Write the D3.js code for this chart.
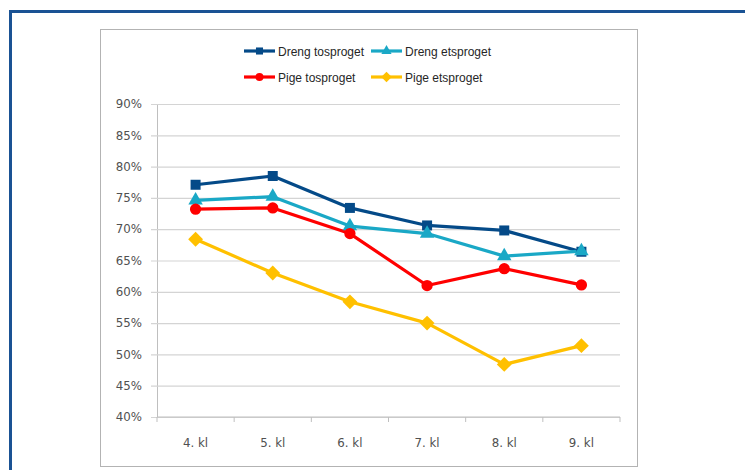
<!DOCTYPE html>
<html>
<head>
<meta charset="utf-8">
<script src="https://cdn.jsdelivr.net/npm/d3@7"></script>
<style>
  body { margin: 0; background: #fff; }
  svg { display: block; }
</style>
</head>
<body>
<div id="chart"></div>
<script>
'use strict'

var classes = ['4. kl', '5. kl', '6. kl', '7. kl', '8. kl', '9. kl'];
var drengTo = [77.1, 78.5, 73.4, 70.6, 69.8, 66.4];
var drengEt = [74.6, 75.2, 70.5, 69.3, 65.7, 66.5];
var pigeTo = [73.2, 73.4, 69.3, 61.0, 63.7, 61.1];
var pigeEt = [68.4, 63.0, 58.4, 55.0, 48.4, 51.4];
var yTicks = [40, 45, 50, 55, 60, 65, 70, 75, 80, 85, 90];

var series = [
  { name: 'Dreng tosproget', values: drengTo, color: '#044a88', marker: d3.symbolSquare, size: 100, rot: 0 },
  { name: 'Dreng etsproget', values: drengEt, color: '#1aa8c6', marker: d3.symbolTriangle, size: 90, rot: 0 },
  { name: 'Pige tosproget', values: pigeTo, color: '#ff0000', marker: d3.symbolCircle, size: 100, rot: 0 },
  { name: 'Pige etsproget', values: pigeEt, color: '#ffc000', marker: d3.symbolSquare, size: 110, rot: 45 }
];

var width = 745, height = 470;
var plot = { left: 157, right: 620, top: 104, bottom: 417 };

var svg = d3.select('#chart').append('svg')
  .attr('width', width)
  .attr('height', height);

// outer frame
svg.append('rect')
  .attr('x', 10.5).attr('y', 11.5)
  .attr('width', 760).attr('height', 480)
  .attr('fill', 'none')
  .attr('stroke', '#1a5294')
  .attr('stroke-width', 3);

// chart box
svg.append('rect')
  .attr('x', 100.5).attr('y', 29.5)
  .attr('width', 537).attr('height', 437)
  .attr('fill', '#fff')
  .attr('stroke', '#b3b3b3')
  .attr('stroke-width', 1);

var x = d3.scaleBand()
  .domain(classes)
  .range([plot.left, plot.right]);

var y = d3.scaleLinear()
  .domain([40, 90])
  .range([plot.bottom, plot.top]);

// gridlines + y axis
var yAxis = d3.axisLeft(y)
  .tickValues(yTicks)
  .tickSize(-(plot.right - plot.left))
  .tickSizeOuter(0)
  .tickPadding(15)
  .tickFormat(function(d) { return d + '%'; });

var gy = svg.append('g')
  .attr('transform', 'translate(' + plot.left + ',0)')
  .call(yAxis);
gy.select('.domain').attr('stroke', '#bfbfbf');
gy.selectAll('.tick line')
  .attr('stroke', '#d4d4d4')
  .attr('x1', -6)
  .attr('stroke-width', 1.2);
gy.selectAll('.tick text')
  .attr('fill', '#505050')
  .style('font-family', 'DejaVu Sans')
  .style('font-size', '11.8px');

// x axis
var xAxis = svg.append('g')
  .attr('transform', 'translate(0,' + plot.bottom + ')');
xAxis.append('line')
  .attr('x1', plot.left).attr('x2', plot.right)
  .attr('stroke', '#bfbfbf').attr('stroke-width', 1.2);
var bounds = classes.map(function(c) { return x(c); }).concat([plot.right]);
xAxis.selectAll('.xt')
  .data(bounds)
  .enter().append('line')
  .attr('class', 'xt')
  .attr('x1', function(d) { return d; })
  .attr('x2', function(d) { return d; })
  .attr('y1', 0).attr('y2', 5)
  .attr('stroke', '#bfbfbf');
xAxis.selectAll('.xl')
  .data(classes)
  .enter().append('text')
  .attr('class', 'xl')
  .attr('x', function(d) { return x(d) + x.bandwidth() / 2; })
  .attr('y', 30)
  .attr('text-anchor', 'middle')
  .attr('fill', '#505050')
  .style('font-family', 'DejaVu Sans')
  .style('font-size', '11.8px')
  .text(function(d) { return d; });

// lines
var line = d3.line()
  .x(function(d, i) { return x(classes[i]) + x.bandwidth() / 2; })
  .y(function(d) { return y(d); });

series.forEach(function(s) {
  svg.append('path')
    .datum(s.values)
    .attr('d', line)
    .attr('fill', 'none')
    .attr('stroke', s.color)
    .attr('stroke-width', 3.2)
    .attr('stroke-linejoin', 'round');
});

series.forEach(function(s) {
  svg.selectAll(null)
    .data(s.values)
    .enter().append('path')
    .attr('d', d3.symbol().type(s.marker).size(s.size))
    .attr('transform', function(d, i) {
      return 'translate(' + (x(classes[i]) + x.bandwidth() / 2) + ',' + y(d) + ') rotate(' + s.rot + ')';
    })
    .attr('fill', s.color);
});

// legend
var legendPos = [[244, 51], [371, 51], [244, 77], [371, 77]];
series.forEach(function(s, i) {
  var g = svg.append('g')
    .attr('transform', 'translate(' + legendPos[i][0] + ',' + legendPos[i][1] + ')');
  g.append('line')
    .attr('x1', 0).attr('x2', 31)
    .attr('stroke', s.color).attr('stroke-width', 3.2);
  g.append('path')
    .attr('d', d3.symbol().type(s.marker).size(s.size * 0.5))
    .attr('transform', 'translate(15.5,0) rotate(' + s.rot + ')')
    .attr('fill', s.color);
  g.append('text')
    .attr('x', 34)
    .attr('y', 4.5)
    .attr('fill', '#262626')
    .style('font-family', 'Liberation Sans')
    .style('font-size', '12px')
    .text(s.name);
});
</script>
</body>
</html>
